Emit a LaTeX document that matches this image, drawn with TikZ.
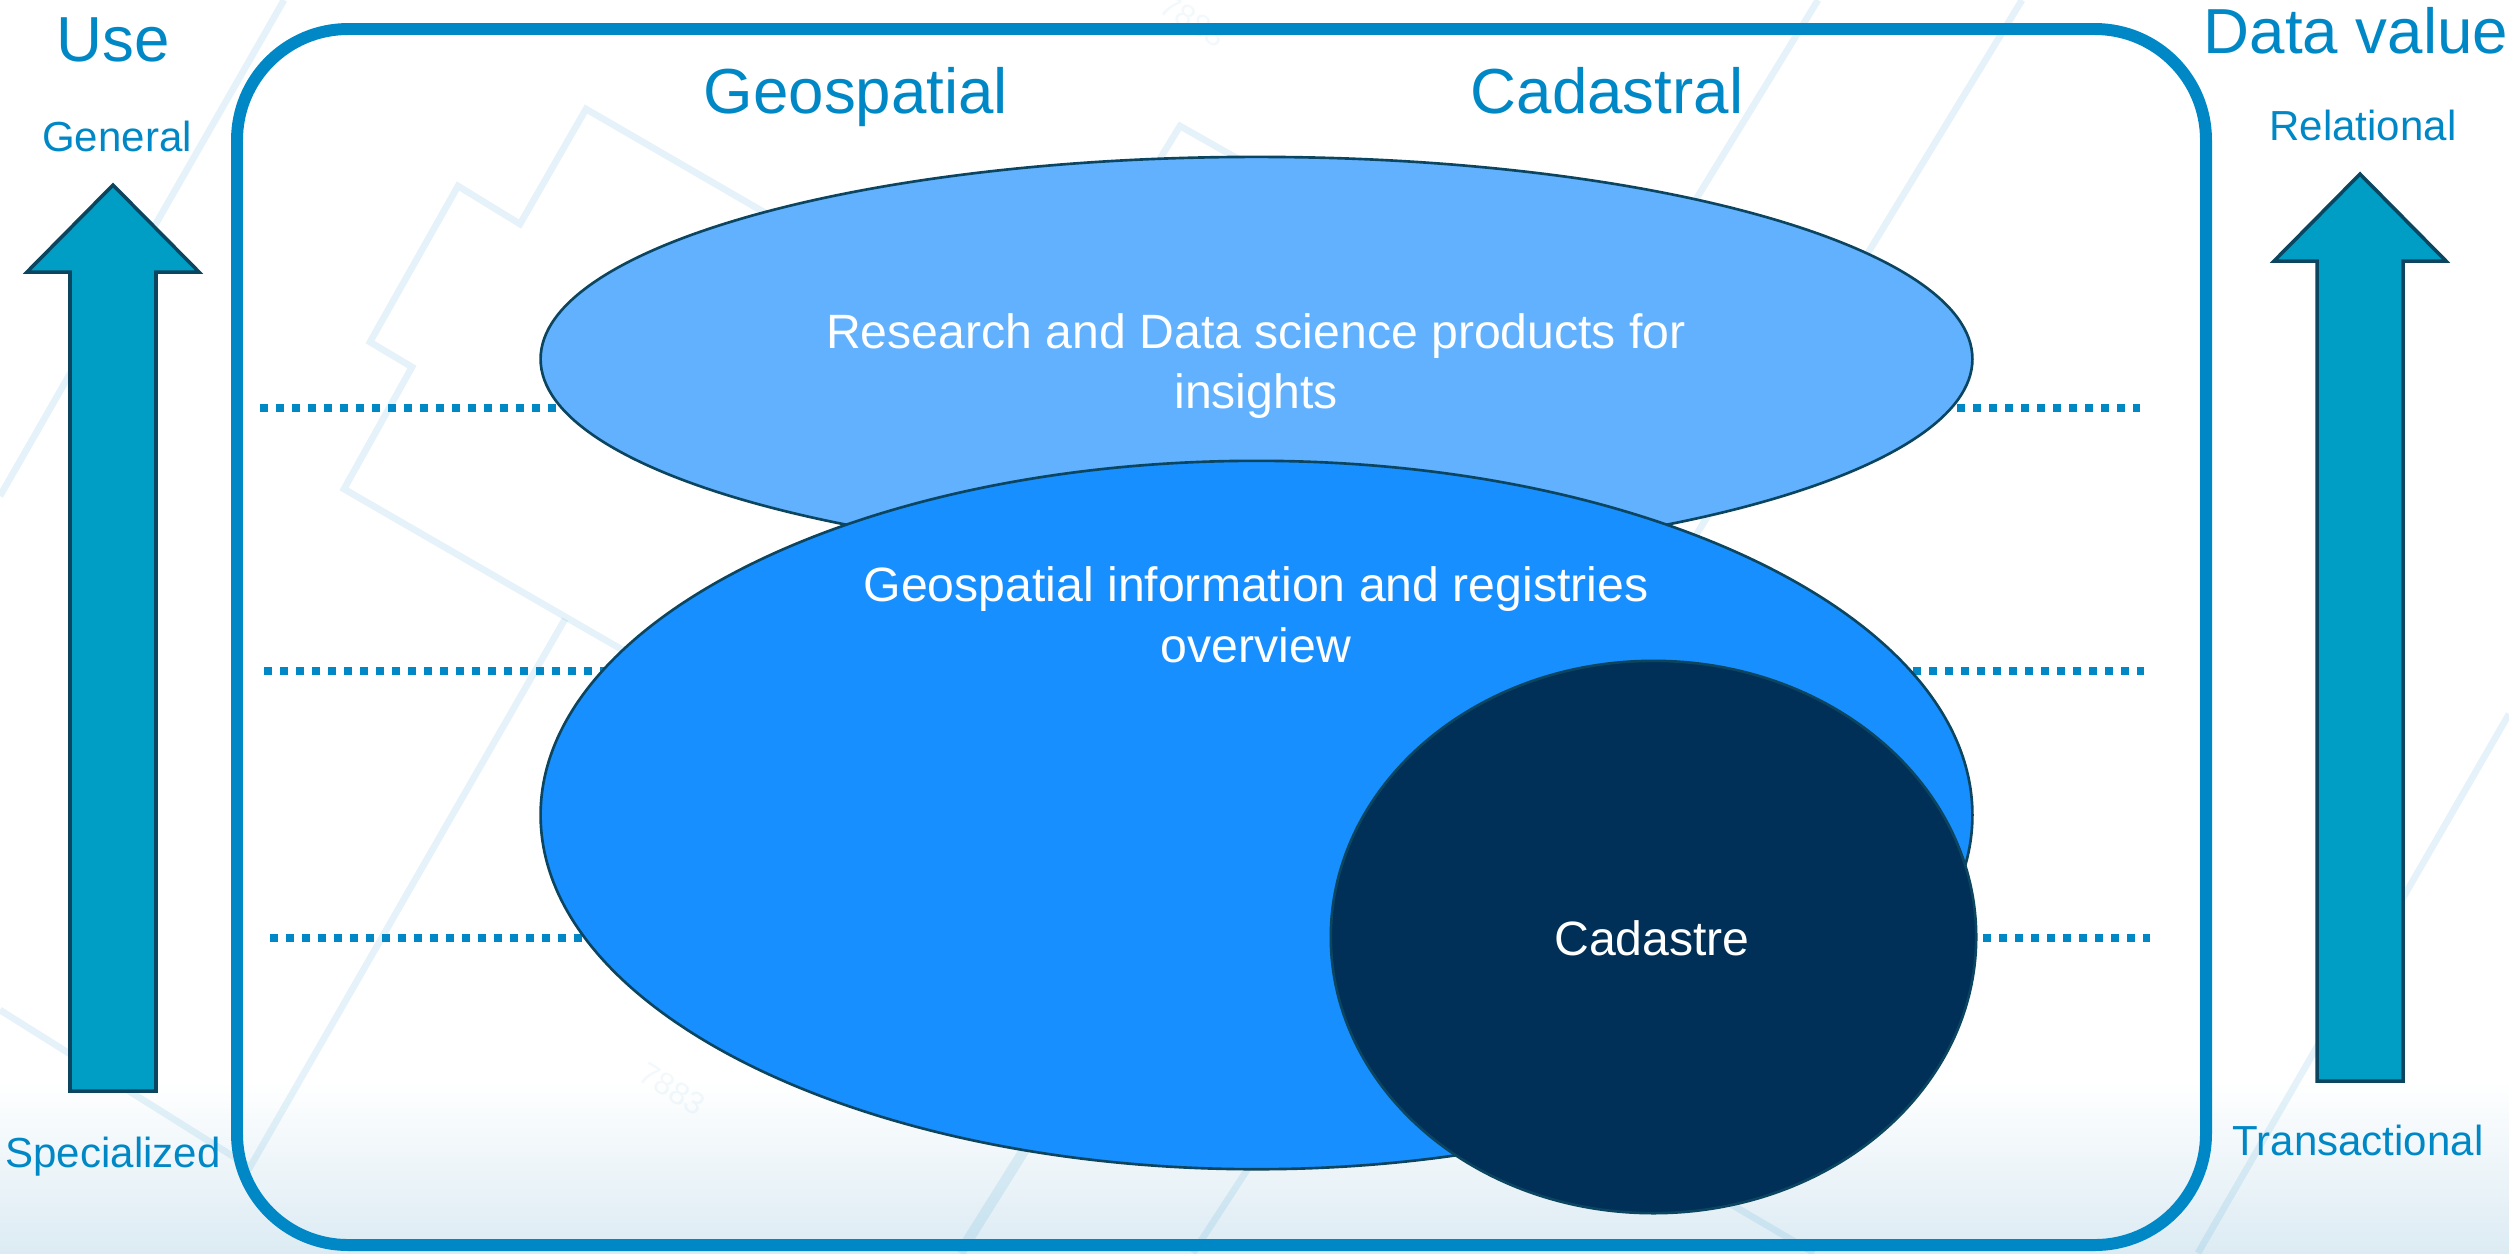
\documentclass[tikz,border=0pt]{standalone}
\usepackage{fontspec}
\setmainfont{Liberation Sans}
\usetikzlibrary{calc}
\usetikzlibrary{shapes.geometric}
\definecolor{framecol}{HTML}{0088C6}
\definecolor{arrowcol}{HTML}{009EC4}
\definecolor{edgecol}{HTML}{0B4560}
\definecolor{topcol}{HTML}{61B1FF}
\definecolor{midcol}{HTML}{188FFF}
\definecolor{cadcol}{HTML}{003057}
\definecolor{groundcol}{HTML}{DCEBF3}
\tikzstyle{parcel}=[framecol,opacity=0.1,line width=1.9pt]
\tikzstyle{plotnr}=[framecol,opacity=0.05,font=\fontsize{9}{10}\selectfont,rotate=-32]
\tikzstyle{dotrow}=[framecol,line width=2.276pt,dash pattern=on 2.276pt off 2.276pt]
\tikzstyle{blob}=[ellipse,draw=edgecol,line width=0.75pt,inner sep=0,outer sep=0]
\tikzstyle{blobtext}=[text=white,inner sep=0,align=center,font=\fontsize{13.7}{17.3}\selectfont]
\tikzset{
  big label/.style={framecol,anchor=base,inner sep=0,font=\fontsize{18.1}{20}\selectfont},
  small label/.style={framecol,anchor=base,inner sep=0,font=\fontsize{11.95}{14}\selectfont}}
\newcommand\upArrow[4]{
  \draw[fill=arrowcol,draw=edgecol,line width=1pt]
    (#1-43,#3) -- (#1-43,#2+87) -- (#1-86,#2+87) -- (#1,#2) -- (#1+86,#2+87) -- (#1+43,#2+87) -- (#1+43,#3) -- cycle;
  \coordinate (#4) at (#1,#2);
}

\begin{document}
\begin{tikzpicture}[x=0.01cm,y=-0.01cm]
  \useasboundingbox (0,0) rectangle (2509,1253);
  \clip (0,0) rectangle (2509,1253);
  
  % GROUND
  \fill[white] (0,0) rectangle (2509,1253);
  \fill[top color=white,bottom color=groundcol] (0,1080) rectangle (2509,1253);
  
  % PARCELS
  \draw[parcel] (284,0) -- (0,496);
  \draw[parcel] (850,262) -- (586,109) -- (520,224) -- (458,186) -- (370,342) -- (412,367) -- (344,489) -- (640,660);
  \draw[parcel] (0,1010) -- (250,1167) -- (565,619);
  \draw[parcel] (1150,175) -- (1180,126) -- (1240,160);
  \draw[parcel] (1818,0) -- (1660,258);
  \draw[parcel] (2022,0) -- (1690,545);
  \draw[parcel] (2509,714) -- (2198,1253);
  \draw[parcel] (1700,1186) -- (1814,1253);
  \draw[parcel,line width=3pt] (1050,1109) -- (960,1253);
  \draw[parcel] (1260,1150) -- (1193,1253);
  \node[plotnr] (nrA) at (1193,21) {7883};
  \node[plotnr] (nrB) at (672,1089) {7883};
  
  % FRAME
  \draw[framecol,line width=3.4pt,rounded corners=1.11cm] (237,29) rectangle (2206,1245);
  
  % LEVELS
  \coordinate (L1) at (260,408);
  \coordinate (R1) at (2140,408);
  \coordinate (L2) at (264,671);
  \coordinate (R2) at (2144,671);
  \coordinate (L3) at (270,938);
  \coordinate (R3) at (2150,938);
  \draw[dotrow] (L1) -- (R1);
  \draw[dotrow] (L2) -- (R2);
  \draw[dotrow] (L3) -- (R3);
  
  % OVALS
  \node[blob,fill=topcol,minimum width=14.31cm,minimum height=4.04cm] (research) at (1256.5,359) {};
  \node[blob,fill=midcol,minimum width=14.31cm,minimum height=7.08cm] (registries) at (1256.5,815) {};
  \node[blob,fill=cadcol,minimum width=6.45cm,minimum height=5.52cm] (cadastre) at (1653.5,937) {};
  \node[blobtext] (researchtext) at (1256,366) {Research and Data science products for\\insights};
  \node[blobtext] (overviewtext) at (1256,615) {Geospatial information and registries\\overview};
  \node[blobtext] (cadastretext) at (1652,938) {Cadastre};
  
  % ARROWS
  \upArrow{113}{185}{1091}{useTip}
  \upArrow{2360}{174}{1081}{valueTip}
  
  % LABELS
  \node[big label] (use) at (113,61) {Use};
  \node[small label] (general) at (117,151) {General};
  \node[small label] (specialized) at (113,1167) {Specialized};
  \node[big label] (geospatial) at (856,113) {Geospatial};
  \node[big label] (cadastral) at (1607,113) {Cadastral};
  \node[big label] (datavalue) at (2356,53) {Data value};
  \node[small label] (relational) at (2363,140) {Relational};
  \node[small label] (transactional) at (2358,1155) {Transactional};
  
\end{tikzpicture}
\end{document}
